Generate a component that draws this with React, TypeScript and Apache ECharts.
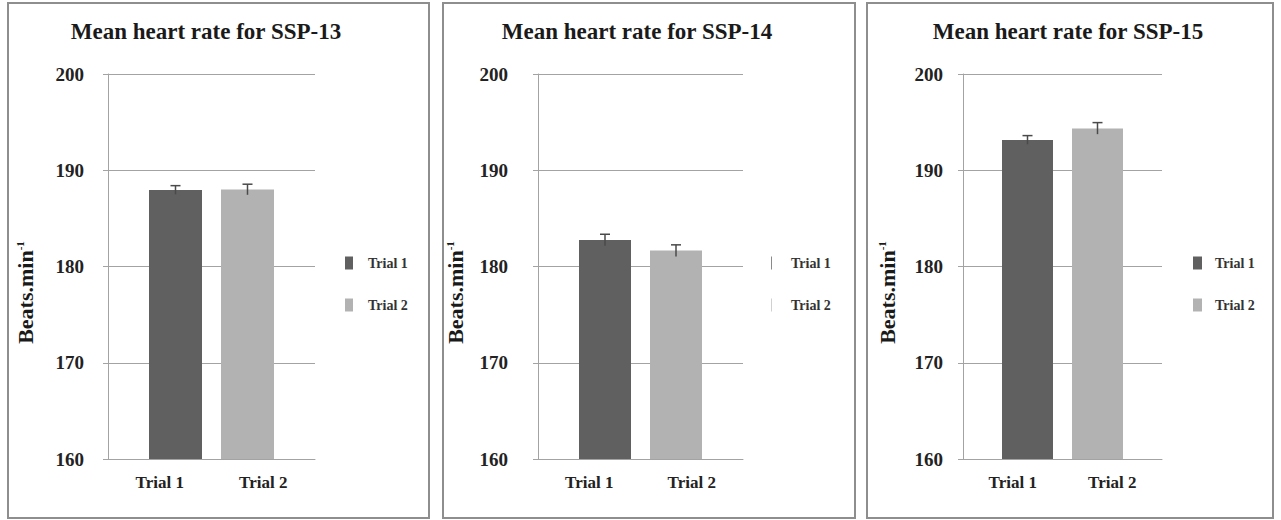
import React, { useEffect, useRef } from "react";
import * as echarts from "echarts";

// ---- data ----
const CATEGORIES = ["Trial 1", "Trial 2"];
const PANEL_TITLES = [
  "Mean heart rate for SSP-13",
  "Mean heart rate for SSP-14",
  "Mean heart rate for SSP-15",
];
const TRIAL1_MEANS = [187.95, 182.75, 193.15];
const TRIAL2_MEANS = [188.0, 181.65, 194.35];
const TRIAL1_ERR = [0.45, 0.6, 0.45];
const TRIAL2_ERR = [0.55, 0.6, 0.6];
const Y_MIN = 160;
const Y_MAX = 200;
const Y_STEP = 10;
const Y_NAME_MAIN = "Beats.min";
const Y_NAME_SUP = "-1";

// ---- layout / style ----
const FONT = "'Liberation Serif', 'Times New Roman', serif";
const DARK = "#606060";
const LIGHT = "#b2b2b2";
const GRID_COLOR = "#a3a3a3";

const PANELS = [
  {
    box: { x: 8, y: 3, width: 421, height: 515 },
    grid: { left: 108, top: 74, width: 207, height: 385 },
    titleX: 206,
    legend: { left: 345, top: 256, w: 8, h: 13, pad: 10 },
    legendColors: [DARK, LIGHT],
    barW: 53,
    offset: 15.75,
    labelMargin: 24,
    nameGap: 72,
  },
  {
    box: { x: 443, y: 3, width: 412, height: 515 },
    grid: { left: 538, top: 74, width: 205, height: 385 },
    titleX: 637,
    legend: { left: 771, top: 256, w: 1, h: 13, pad: 14 },
    legendColors: ["#8a8a8a", "#d0d0d0"],
    barW: 52,
    offset: 15.75,
    labelMargin: 30,
    nameGap: 72,
  },
  {
    box: { x: 867, y: 3, width: 406, height: 515 },
    grid: { left: 963, top: 74, width: 199, height: 385 },
    titleX: 1068,
    legend: { left: 1193, top: 256, w: 9, h: 13, pad: 8 },
    legendColors: [DARK, LIGHT],
    barW: 51,
    offset: 14.75,
    labelMargin: 20,
    nameGap: 65,
  },
];

function buildOption() {
  const title: any[] = [];
  const grid: any[] = [];
  const xAxis: any[] = [];
  const yAxis: any[] = [];
  const legend: any[] = [];
  const series: any[] = [];
  const graphic: any[] = [];

  PANELS.forEach((p, i) => {
    graphic.push({
      type: "rect",
      z: -10,
      shape: { ...p.box },
      style: { fill: "none", stroke: "#8e8e8e", lineWidth: 2 },
    });
    title.push({
      text: PANEL_TITLES[i],
      left: p.titleX,
      top: 20,
      padding: 0,
      textAlign: "center",
      textStyle: {
        fontFamily: FONT,
        fontWeight: "bold",
        fontSize: 23,
        color: "#1a1a1a",
      },
    });
    grid.push({ ...p.grid });
    xAxis.push({
      type: "category",
      gridIndex: i,
      data: CATEGORIES,
      axisLine: { show: true, lineStyle: { color: GRID_COLOR, width: 1 } },
      axisTick: { show: false },
      axisLabel: {
        fontFamily: FONT,
        fontWeight: "bold",
        fontSize: 17,
        color: "#222",
        margin: 15,
      },
    });
    yAxis.push({
      type: "value",
      gridIndex: i,
      min: Y_MIN,
      max: Y_MAX,
      interval: Y_STEP,
      name: `{a|${Y_NAME_MAIN}}{b|${Y_NAME_SUP}}`,
      nameLocation: "middle",
      nameGap: p.nameGap,
      nameRotate: 90,
      nameTextStyle: {
        padding: [0, 52, 0, 0],
        rich: {
          a: {
            fontFamily: FONT,
            fontWeight: "bold",
            fontSize: 22,
            color: "#1a1a1a",
          },
          b: {
            fontFamily: FONT,
            fontWeight: "bold",
            fontSize: 11,
            color: "#1a1a1a",
            verticalAlign: "top",
          },
        },
      },
      axisLine: { show: true, lineStyle: { color: GRID_COLOR, width: 1 } },
      axisTick: { show: true, length: 5, lineStyle: { color: GRID_COLOR } },
      splitLine: { show: true, lineStyle: { color: GRID_COLOR, width: 1 } },
      axisLabel: {
        fontFamily: FONT,
        fontWeight: "bold",
        fontSize: 19,
        color: "#222",
        margin: p.labelMargin,
      },
    });
    legend.push({
      orient: "vertical",
      left: p.legend.left,
      top: p.legend.top,
      padding: 0,
      itemGap: 28,
      itemWidth: p.legend.w,
      itemHeight: p.legend.h,
      selectedMode: false,
      data: CATEGORIES.map((c, k) => ({
        name: c,
        icon: "rect",
        itemStyle: { color: p.legendColors[k] },
      })),
      textStyle: {
        fontFamily: FONT,
        fontWeight: "bold",
        fontSize: 14,
        color: "#333",
        padding: [0, 0, 0, p.legend.pad],
      },
    });

    const gapPct = `${((2 * p.offset - p.barW) / p.barW) * 100}%`;
    // first bar series occupies the left slot, second the right slot,
    // so the bars sit slightly toward the middle of the plot.
    series.push({
      type: "bar",
      name: CATEGORIES[1],
      xAxisIndex: i,
      yAxisIndex: i,
      barWidth: p.barW,
      barGap: gapPct,
      itemStyle: { color: LIGHT },
      data: ["-", TRIAL2_MEANS[i]],
    });
    series.push({
      type: "bar",
      name: CATEGORIES[0],
      xAxisIndex: i,
      yAxisIndex: i,
      barWidth: p.barW,
      barGap: gapPct,
      itemStyle: { color: DARK },
      data: [TRIAL1_MEANS[i], "-"],
    });
    const off = p.offset;
    series.push({
      type: "custom",
      xAxisIndex: i,
      yAxisIndex: i,
      z: 10,
      silent: true,
      encode: { x: 0, y: 1 },
      data: [
        [0, TRIAL1_MEANS[i], TRIAL1_ERR[i]],
        [1, TRIAL2_MEANS[i], TRIAL2_ERR[i]],
      ],
      renderItem: (params: any, api: any) => {
        const cat = api.value(0);
        const v = api.value(1);
        const e = api.value(2);
        const top = api.coord([cat, v + e]);
        const bot = api.coord([cat, v - e]);
        const x = top[0] + (cat === 0 ? off : -off);
        const st = { stroke: "#4a4a4a", lineWidth: 1.5 };
        return {
          type: "group",
          children: [
            { type: "line", shape: { x1: x, y1: top[1], x2: x, y2: bot[1] }, style: st },
            { type: "line", shape: { x1: x - 5, y1: top[1], x2: x + 5, y2: top[1] }, style: st },
          ],
        };
      },
    });
  });

  return {
    animation: false,
    backgroundColor: "#ffffff",
    title,
    grid,
    xAxis,
    yAxis,
    legend,
    series,
    graphic,
  };
}

export default function App() {
  const ref = useRef<HTMLDivElement>(null);
  useEffect(() => {
    if (!ref.current) return;
    const chart = echarts.init(ref.current, undefined, { renderer: "svg" });
    chart.setOption(buildOption() as any);
    return () => chart.dispose();
  }, []);
  return (
    <div
      ref={ref}
      style={{ position: "absolute", left: 0, top: 0, width: 1281, height: 520 }}
    />
  );
}
